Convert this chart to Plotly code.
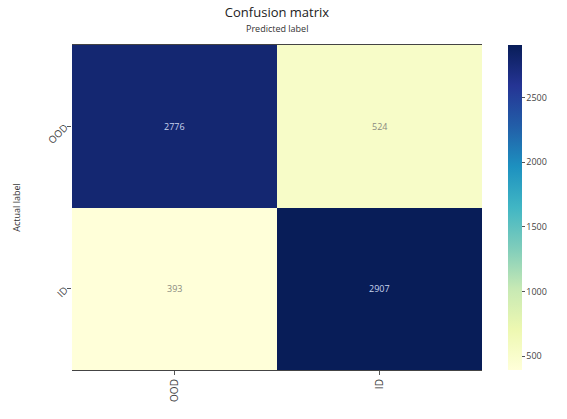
import plotly.graph_objects as go

labels = ["OOD", "ID"]
matrix = [[2776, 524],
          [393, 2907]]
cbar_ticks = [500, 1000, 1500, 2000, 2500]

fig = go.Figure()
fig.add_trace(go.Heatmap(
    z=matrix, x=labels, y=labels,
    colorscale="YlGnBu", zmin=393, zmax=2907,
    showscale=True, hoverinfo="z",
    colorbar=dict(
        x=(508 - 72) / 410, xanchor="left", y=0.5, yanchor="middle",
        len=1.0, lenmode="fraction", thickness=14, ypad=0, xpad=0,
        tickvals=cbar_ticks, ticks="outside", ticklen=3,
        tickcolor="#555", outlinewidth=0,
        tickfont=dict(size=9, color="#444", family="Open Sans"),
    ),
))

annots = []
for i, row in enumerate(matrix):
    for j, v in enumerate(row):
        annots.append(dict(
            x=labels[j], y=labels[i], xref="x", yref="y", text=str(v),
            showarrow=False,
            font=dict(size=9, color="#c8d4ee" if v > 1500 else "#8a8a80"),
        ))
annots.append(dict(text="Predicted label", xref="paper", yref="paper",
                   x=0.5, y=1, yanchor="middle", yshift=17, showarrow=False,
                   font=dict(size=9, color="#333")))

fig.update_layout(
    width=567, height=419,
    margin=dict(l=72, r=85, t=45, b=49, autoexpand=False),
    paper_bgcolor="white", plot_bgcolor="white",
    font=dict(family="Open Sans", color="#333"),
    title=dict(text="Confusion matrix", x=0.5, xref="paper", xanchor="center",
               y=1 - 12 / 419, yanchor="middle", font=dict(size=13, color="#222")),
    xaxis=dict(side="bottom", tickangle=-90, ticks="outside", ticklen=4,
               tickcolor="#555", tickfont=dict(size=10, color="#444"),
               showline=True, linecolor="#444", linewidth=1.2, mirror=True,
               showgrid=False, zeroline=False),
    yaxis=dict(autorange="reversed", tickangle=-45, ticks="outside", ticklen=4,
               tickcolor="#555", tickfont=dict(size=10, color="#444"),
               showline=False, showgrid=False, zeroline=False,
               title=dict(text="Actual label", font=dict(size=9, color="#333"), standoff=22)),
    annotations=annots,
)

fig.write_html("out.html")
